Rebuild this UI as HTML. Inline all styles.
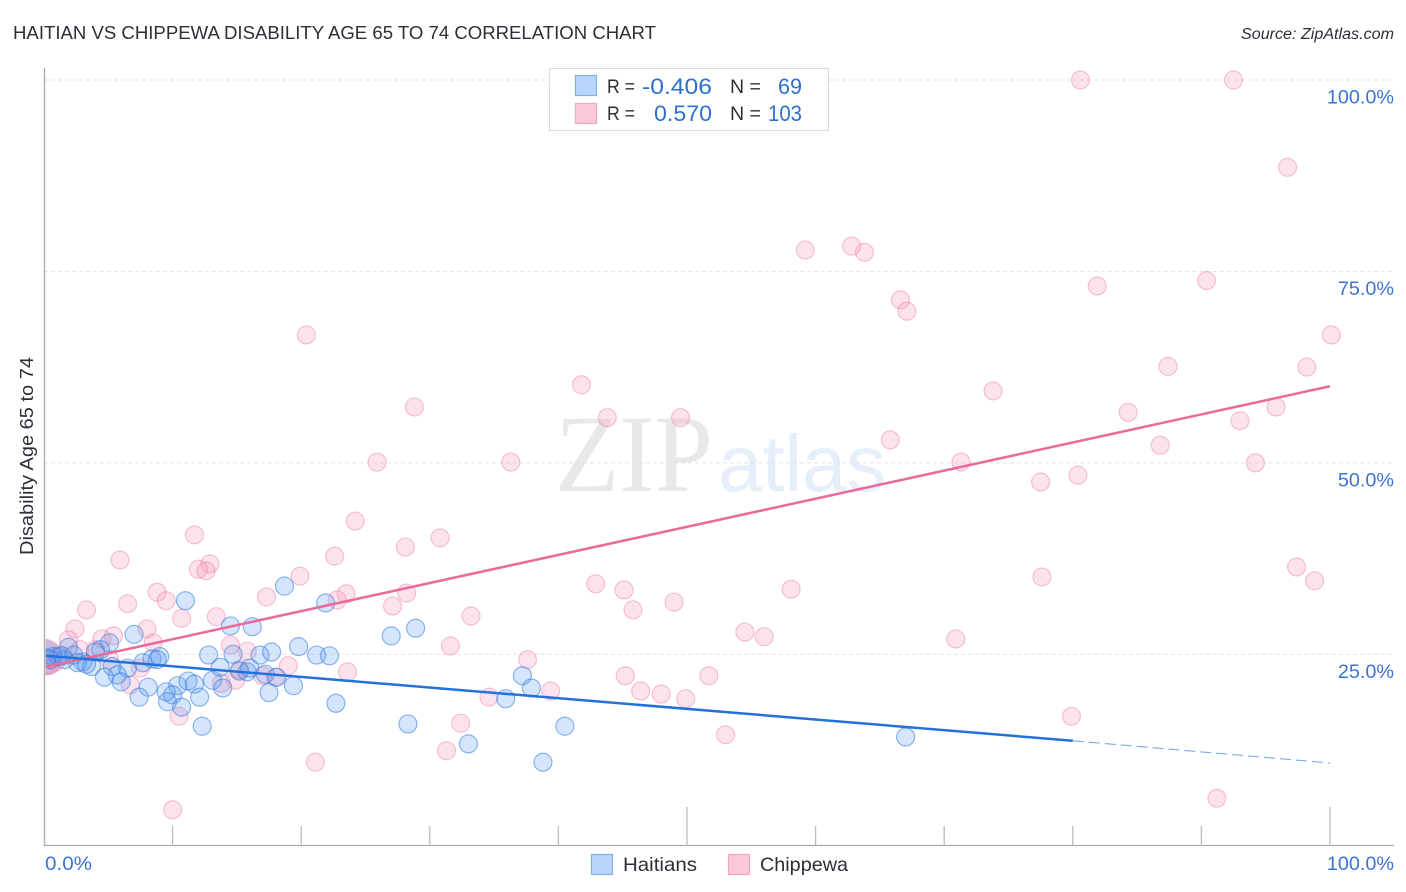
<!DOCTYPE html>
<html lang="en">
<head>
<meta charset="utf-8">
<title>Haitian vs Chippewa Disability Age 65 to 74 Correlation Chart</title>
<style>
html,body{margin:0;padding:0;background:#fff;}
svg{display:block;font-family:"Liberation Sans",sans-serif;}
</style>
</head>
<body>
<svg id="chart" xmlns="http://www.w3.org/2000/svg" width="1406" height="892" viewBox="0 0 1406 892">
<rect width="1406" height="892" fill="#ffffff"/>
<defs><clipPath id="plotClip"><rect x="45.5" y="60" width="1360" height="786"/></clipPath></defs>
<g>
<text x="555" y="491" font-family="'Liberation Serif',serif" font-size="110" textLength="158" lengthAdjust="spacingAndGlyphs" fill="#e8e8e8">ZIP</text>
<text x="718" y="491" font-size="80" textLength="168" lengthAdjust="spacingAndGlyphs" fill="#e5eefa">atlas</text>
</g>
<g id="grid"></g>
<g id="pts" clip-path="url(#plotClip)"></g>
<g id="lines"></g>
<g id="axes"></g>
<text x="13" y="39" font-size="18.5" textLength="643" lengthAdjust="spacingAndGlyphs" fill="#2b2f36">HAITIAN VS CHIPPEWA DISABILITY AGE 65 TO 74 CORRELATION CHART</text>
<text x="1241" y="39" font-size="15.5" font-style="italic" textLength="153" lengthAdjust="spacingAndGlyphs" fill="#2b2f36">Source: ZipAtlas.com</text>
<text transform="translate(33,456) rotate(-90)" font-size="18" text-anchor="middle" textLength="198" lengthAdjust="spacingAndGlyphs" fill="#2b2f36">Disability Age 65 to 74</text>
<g>
<rect x="549.5" y="68.5" width="279" height="62" fill="#ffffff" stroke="#dcdcdc" stroke-width="1.2"/>
<rect x="575.5" y="75.5" width="21" height="20" fill="#b9d5fb" stroke="#7fb0ea" stroke-width="1.2"/>
<rect x="575.5" y="103.5" width="21" height="20" fill="#fbc9da" stroke="#f3a5bf" stroke-width="1.2"/>
<text x="607" y="93" font-size="19" textLength="28" lengthAdjust="spacingAndGlyphs" fill="#2b2f36">R =</text>
<text x="642" y="94" font-size="22" textLength="70" lengthAdjust="spacingAndGlyphs" fill="#2f6fd0">-0.406</text>
<text x="730" y="93" font-size="19" textLength="31" lengthAdjust="spacingAndGlyphs" fill="#2b2f36">N =</text>
<text x="778" y="94" font-size="22" textLength="24" lengthAdjust="spacingAndGlyphs" fill="#2f6fd0">69</text>
<text x="607" y="120" font-size="19" textLength="28" lengthAdjust="spacingAndGlyphs" fill="#2b2f36">R =</text>
<text x="654" y="121" font-size="22" textLength="58" lengthAdjust="spacingAndGlyphs" fill="#2f6fd0">0.570</text>
<text x="730" y="120" font-size="19" textLength="31" lengthAdjust="spacingAndGlyphs" fill="#2b2f36">N =</text>
<text x="768" y="121" font-size="22" textLength="34" lengthAdjust="spacingAndGlyphs" fill="#2f6fd0">103</text>
</g>
<g>
<rect x="591.5" y="854.5" width="21" height="20" fill="#b9d5fb" stroke="#7fb0ea" stroke-width="1.2"/>
<text x="623" y="871" font-size="19.5" textLength="74" lengthAdjust="spacingAndGlyphs" fill="#2b2f36">Haitians</text>
<rect x="728.5" y="854.5" width="21" height="20" fill="#fbc9da" stroke="#f3a5bf" stroke-width="1.2"/>
<text x="760" y="871" font-size="19.5" textLength="88" lengthAdjust="spacingAndGlyphs" fill="#2b2f36">Chippewa</text>
</g>
</svg>
<script>
const haitianX = [11.0,18.7,21.9,7.0,14.5,16.2,5.1,1.9,12.8,14.7,16.8,17.7,19.8,21.2,22.2,9.0,8.4,8.8,4.4,4.0,0.7,1.1,1.6,2.3,3.0,3.7,5.3,6.5,5.7,4.7,6.0,7.7,8.1,7.4,13.7,13.1,13.9,15.2,15.8,16.0,17.2,18.1,19.4,17.5,22.7,10.4,11.2,11.7,9.5,10.0,9.6,10.7,12.1,12.3,27.0,28.9,28.3,33.0,37.2,37.9,35.9,40.5,38.8,67.0,0.2,0.5,1.4,2.6,3.3];
const haitianY = [32.0,33.9,31.7,27.6,28.7,28.6,26.5,25.9,24.9,25.0,24.9,25.3,26.0,24.9,24.8,24.7,24.4,24.3,25.6,25.3,24.7,24.7,24.3,24.9,24.0,23.4,23.4,23.2,22.3,22.0,21.4,23.9,20.7,19.4,23.3,21.6,20.6,22.8,22.7,23.2,22.4,22.0,20.9,20.0,18.6,20.9,21.5,21.1,20.1,19.7,18.8,18.1,19.4,15.6,27.4,28.4,15.9,13.3,22.2,20.6,19.2,15.6,10.9,14.2,24.5,24.3,24.8,23.9,23.7];
const chippewaX = [80.6,92.5,96.7,59.2,62.8,63.8,81.9,90.4,66.6,67.1,20.4,100.1,87.4,98.2,41.8,73.8,28.8,95.8,43.8,49.5,84.3,93.0,65.8,86.8,25.9,36.3,71.3,94.2,77.5,80.4,24.2,11.7,30.8,28.1,22.6,5.9,12.9,12.0,12.6,19.9,97.4,98.8,77.6,42.9,58.1,8.8,17.3,23.5,28.2,9.5,6.5,22.8,27.1,3.3,45.1,49.0,45.8,33.2,10.7,13.4,8.0,2.4,54.5,56.0,70.9,1.9,5.4,4.5,8.5,31.6,14.5,37.6,15.8,19.0,23.6,51.7,45.2,46.4,48.0,49.9,39.4,34.6,32.4,31.3,53.0,79.9,10.5,21.1,10.0,91.2,0.5,0.9,2.8,4.0,5.1,6.7,7.5,13.8,14.9,17.0,18.0,15.2,1.2];
const chippewaY = [100,100,88.6,77.8,78.3,77.5,73.1,73.8,71.3,69.8,66.7,66.7,62.6,62.5,60.2,59.4,57.3,57.3,55.9,55.9,56.6,55.5,53.0,52.3,50.1,50.1,50.1,50.0,47.5,48.4,42.4,40.6,40.2,39.0,37.8,37.3,36.8,36.1,35.9,35.2,36.4,34.6,35.1,34.2,33.5,33.1,32.5,32.9,33.0,32.0,31.6,32.1,31.3,30.8,33.4,31.8,30.8,30.0,29.7,29.9,28.3,28.3,27.9,27.3,27.0,26.9,27.4,27.0,26.5,26.1,26.2,24.3,25.4,23.5,22.7,22.2,22.2,20.2,19.8,19.2,20.2,19.4,16.0,12.4,14.5,16.9,16.9,10.9,4.7,6.2,23.6,24.0,25.6,25.6,24.3,21.0,23.2,21.2,21.6,22.2,22.0,23.0,24.9];
const clusterPoint = [0, 24.6];
const haitianTrendX = [0, 80, 100];
const haitianTrendY = [24.8, 13.7, 10.8];
const chippewaTrendX = [0, 100];
const chippewaTrendY = [23.3, 60.0];
const yTickValues = [25, 50, 75, 100];
const yTickLabels = ["25.0%", "50.0%", "75.0%", "100.0%"];
const xTickValues = [0, 10, 20, 30, 40, 50, 60, 70, 80, 90, 100];
const xEndLabels = ["0.0%", "100.0%"];

const NS = "http://www.w3.org/2000/svg";
const sx = v => 44 + v * 12.86;
const sy = v => 845.7 - v * 7.657;
function mk(tag, attrs, parent) {
  const e = document.createElementNS(NS, tag);
  for (const k in attrs) e.setAttribute(k, attrs[k]);
  parent.appendChild(e);
  return e;
}
const grid = document.getElementById("grid");
const axes = document.getElementById("axes");
const pts = document.getElementById("pts");
const lines = document.getElementById("lines");

yTickValues.forEach((v, i) => {
  const l = mk("line", {x1: 44, x2: 1394, y1: sy(v), y2: sy(v), stroke: "#e2e2e2", "stroke-width": 1, "stroke-dasharray": "4 3"}, grid);
  
  
  const t = mk("text", {x: 1394, y: sy(v) + 23.5, "font-size": 19.8, "text-anchor": "end", fill: "#3b74d4"}, axes);
  t.textContent = yTickLabels[i];
  
  
});

const yAxis = mk("line", {x1: 44.5, x2: 44.5, y1: 68, y2: 846, stroke: "#aaaaaa", "stroke-width": 1.3}, axes);


const xAxis = mk("line", {x1: 44, x2: 1394, y1: 845.5, y2: 845.5, stroke: "#aaaaaa", "stroke-width": 1.3}, axes);


xTickValues.forEach(v => {
  if (v === 0) return;
  const top = (v === 50 || v === 100) ? 807 : 826;
  const t = mk("line", {x1: sx(v), x2: sx(v), y1: top, y2: 846, stroke: "#bbbbbb", "stroke-width": 1.3}, axes);
  
  
});
const x0 = mk("text", {x: 45, y: 870, "font-size": 19.8, textLength: 47, lengthAdjust: "spacingAndGlyphs", fill: "#3b74d4"}, axes);
x0.textContent = xEndLabels[0];


const x1 = mk("text", {x: 1394, y: 870, "font-size": 19.8, "text-anchor": "end", fill: "#3b74d4"}, axes);
x1.textContent = xEndLabels[1];



const BLUE = {fill: "rgba(91,156,240,0.26)", stroke: "rgba(55,125,222,0.55)"};
const PINK = {fill: "rgba(246,150,185,0.28)", stroke: "rgba(236,120,160,0.42)"};
function drawSeries(xs, ys, c) {
  xs.forEach((x, i) => {
    const p = mk("circle", {cx: sx(x), cy: sy(ys[i]), r: 9, fill: c.fill, stroke: c.stroke, "stroke-width": 1.2}, pts);
    
    
  });
}
const bigPink = mk("circle", {cx: sx(clusterPoint[0]), cy: sy(clusterPoint[1]), r: 18, fill: "rgba(230,140,175,0.4)", stroke: PINK.stroke, "stroke-width": 1.2}, pts);


const bigBlue = mk("circle", {cx: sx(clusterPoint[0]), cy: sy(clusterPoint[1]), r: 17.5, fill: "rgba(91,130,220,0.28)", stroke: "none"}, pts);


drawSeries(chippewaX, chippewaY, PINK);
drawSeries(haitianX, haitianY, BLUE);

const tp = mk("line", {x1: sx(chippewaTrendX[0]) + 2, y1: sy(chippewaTrendY[0]) - 0.4, x2: sx(chippewaTrendX[1]), y2: sy(chippewaTrendY[1]), stroke: "#ea6b9b", "stroke-width": 2.5}, lines);


const tb = mk("line", {x1: sx(haitianTrendX[0]) + 2, y1: sy(haitianTrendY[0]), x2: sx(haitianTrendX[1]), y2: sy(haitianTrendY[1]), stroke: "#2272da", "stroke-width": 2.5}, lines);


const td = mk("line", {x1: sx(haitianTrendX[1]), y1: sy(haitianTrendY[1]), x2: sx(haitianTrendX[2]), y2: sy(haitianTrendY[2]), stroke: "#7aa6e6", "stroke-width": 1.1, "stroke-dasharray": "11 5"}, lines);


</script>
</body>
</html>
